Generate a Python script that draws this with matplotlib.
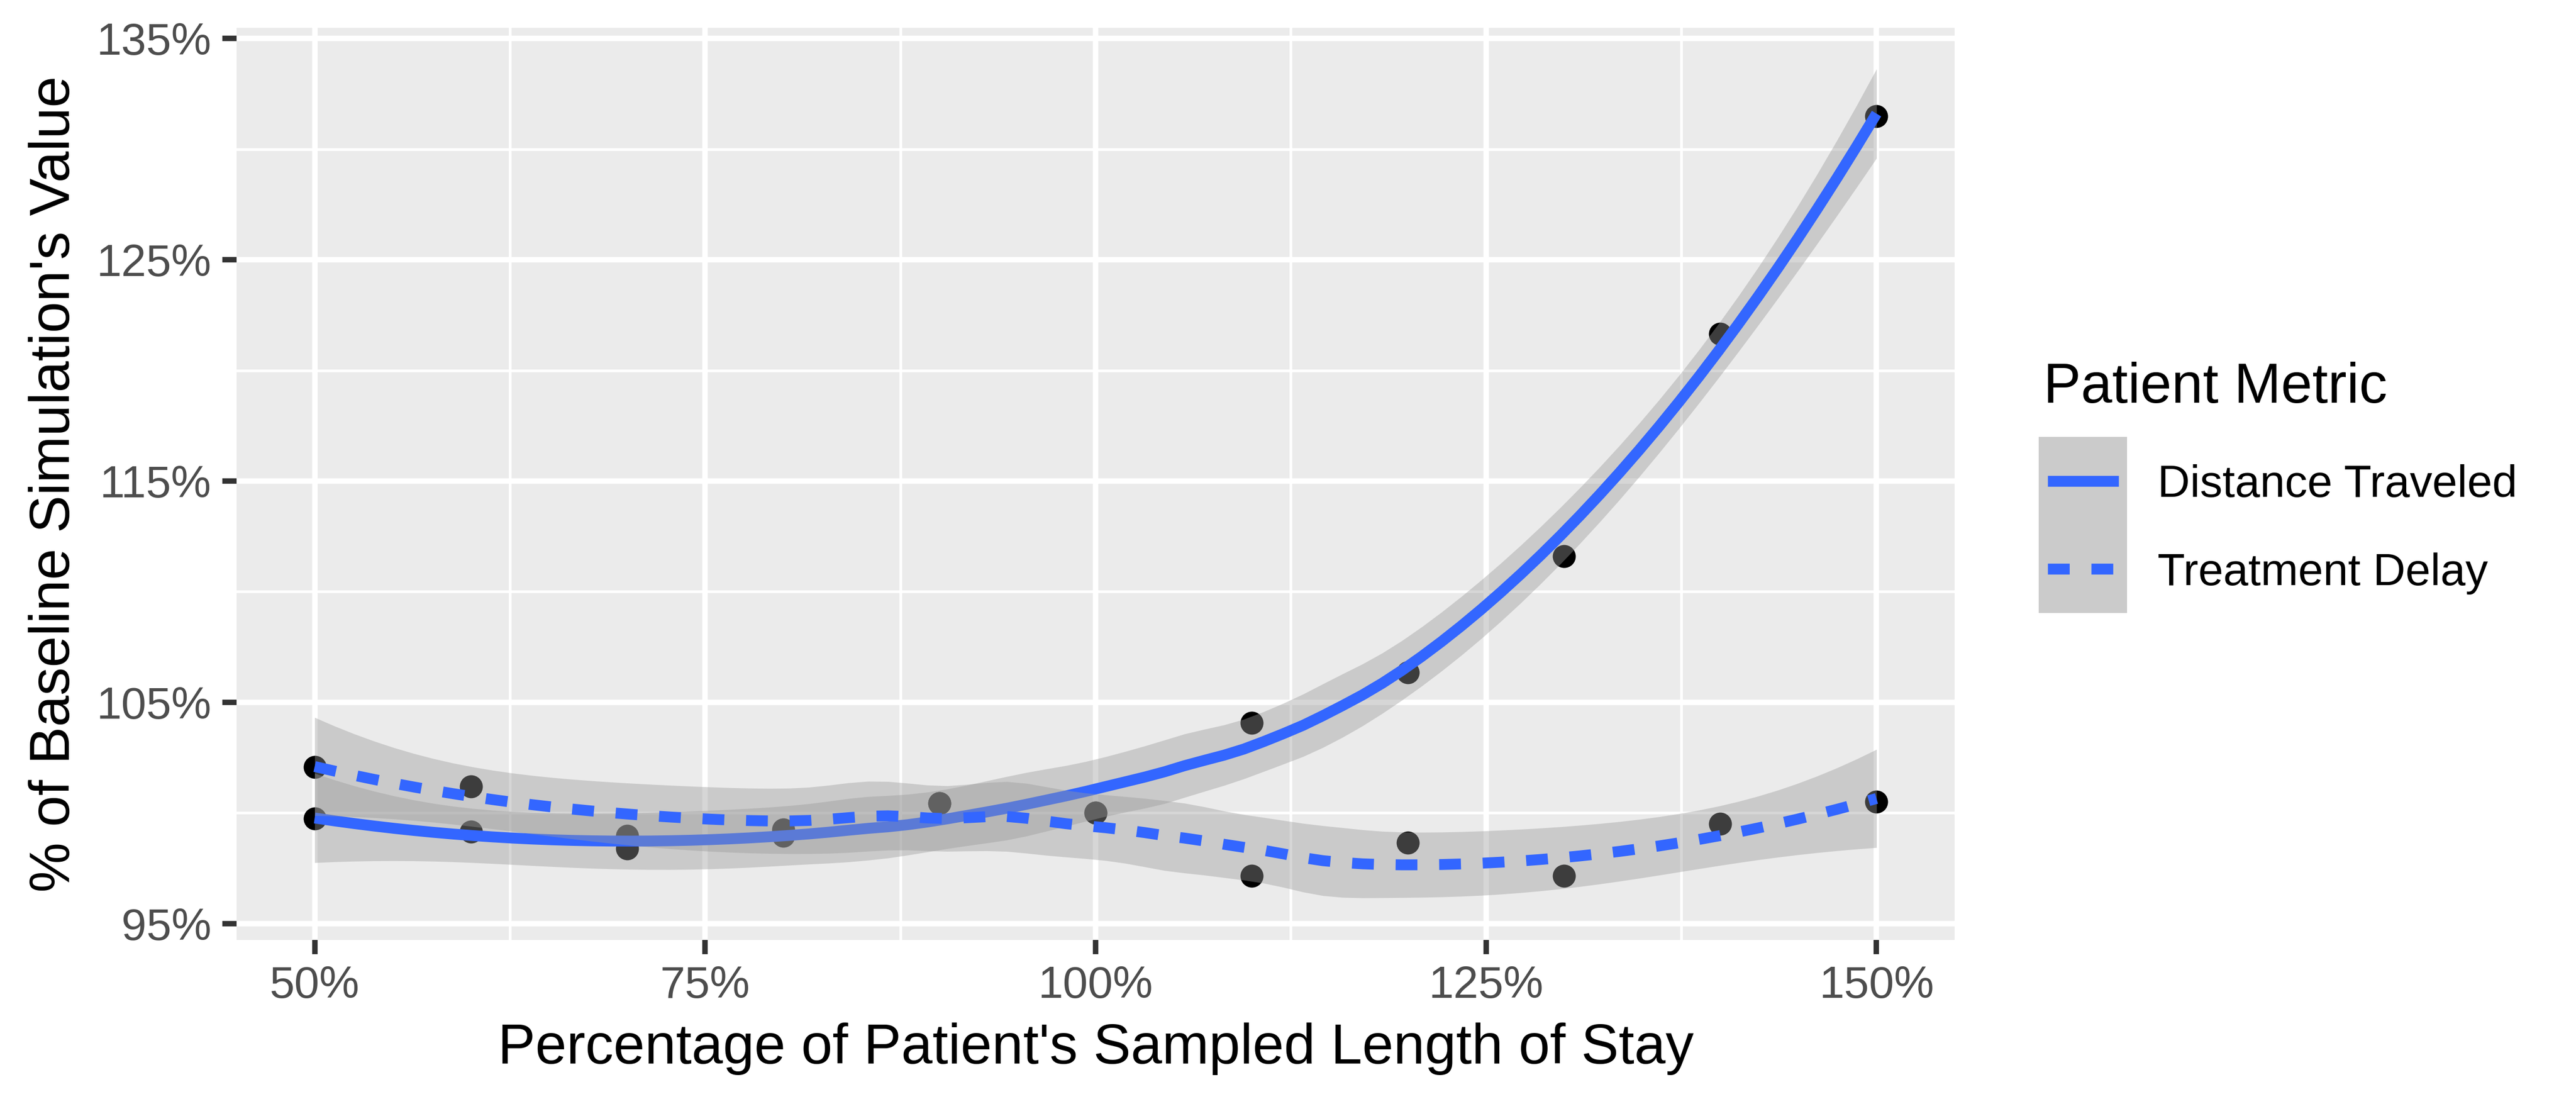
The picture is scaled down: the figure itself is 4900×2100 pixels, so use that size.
import numpy as np
import matplotlib
matplotlib.use("Agg")
import matplotlib.pyplot as plt
from matplotlib.lines import Line2D
from matplotlib.patches import Rectangle
from math import lgamma, exp, sqrt, pi

# data (percent of baseline)
los_pct = [50, 60, 70, 80, 90, 100, 110, 120, 130, 140, 150]
distance = [99.75, 99.16, 98.40, 98.97, 100.44, 100.0, 104.07, 106.36, 111.6, 121.65, 131.5]
delay = [102.08, 101.2, 98.97, 99.25, 100.44, 100.0, 97.15, 98.65, 97.17, 99.51, 100.5]
metrics = ["Distance Traveled", "Treatment Delay"]
x_ticks = [50, 75, 100, 125, 150]
y_ticks = [95, 105, 115, 125, 135]

plt.rcParams['font.family'] = ['Liberation Sans', 'DejaVu Sans']

LINE_COL = '#3366FF'


def loess_matrix(x, xnew, span=0.75):
    # local quadratic fit, tricube weights (like R's loess default)
    n = len(x)
    q = int(np.floor(n * span + 1e-5))
    L = np.zeros((len(xnew), n))
    for i, x0 in enumerate(xnew):
        d = np.abs(x - x0)
        h = np.sort(d)[q - 1]
        u = d / h
        w = np.where(u < 1, (1 - u ** 3) ** 3, 0.0)
        X = np.column_stack([np.ones(n), x - x0, (x - x0) ** 2])
        XtW = X.T * w
        L[i] = np.linalg.solve(XtW @ X, XtW)[0]
    return L


def t_quantile(p, df):
    xs = np.linspace(0, 60, 300001)
    c = exp(lgamma((df + 1) / 2) - lgamma(df / 2)) / sqrt(df * pi)
    pdf = c * (1 + xs ** 2 / df) ** (-(df + 1) / 2)
    dx = xs[1] - xs[0]
    cdf = 0.5 + np.concatenate([[0], np.cumsum((pdf[1:] + pdf[:-1]) / 2 * dx)])
    return np.interp(p, cdf, xs)


def smooth(x, y, npts=80):
    x = np.asarray(x, float)
    y = np.asarray(y, float)
    xg = np.linspace(x.min(), x.max(), npts)
    Lg = loess_matrix(x, xg)
    Ld = loess_matrix(x, x)
    R = np.eye(len(x)) - Ld
    RR = R.T @ R
    one_delta = np.trace(RR)
    two_delta = np.trace(RR @ RR)
    sigma = np.sqrt(np.sum((R @ y) ** 2) / one_delta)
    fit = Lg @ y
    se = sigma * np.sqrt(np.sum(Lg ** 2, axis=1))
    tq = t_quantile(0.975, one_delta ** 2 / two_delta)
    return xg, fit, fit - tq * se, fit + tq * se


fig = plt.figure(figsize=(7, 3), dpi=700)
ax = fig.add_axes([450 / 4900, 1 - 1788 / 2100, (3718 - 450) / 4900, (1788 - 53) / 2100])
ax.set_facecolor('#EBEBEB')
for s in ax.spines.values():
    s.set_visible(False)

# points first, smooths drawn over them
ax.plot(los_pct, distance, 'o', ms=4.5, color='black', mec='none', zorder=2)
ax.plot(los_pct, delay, 'o', ms=4.5, color='black', mec='none', zorder=2)

z = 3
for vals, ls in [(distance, '-'), (delay, '--')]:
    xg, fit, lo, hi = smooth(los_pct, vals)
    ax.fill_between(xg, lo, hi, color='#999999', alpha=0.4, lw=0, zorder=z)
    ln, = ax.plot(xg, fit, color=LINE_COL, lw=2.13, zorder=z + 1, solid_capstyle='butt')
    if ls == '--':
        ln.set_dashes((2, 2))
        ln.set_dash_capstyle('butt')
    z += 2

ax.set_xlim(45.0, 155.0)
ax.set_ylim(94.26, 135.48)
ax.set_xticks(x_ticks)
ax.set_xticklabels([f"{v}%" for v in x_ticks])
ax.set_yticks(y_ticks)
ax.set_yticklabels([f"{v}%" for v in y_ticks])
ax.set_xticks([62.5, 87.5, 112.5, 137.5], minor=True)
ax.set_yticks([100, 110, 120, 130], minor=True)
ax.grid(which='major', color='white', lw=1.07)
ax.grid(which='minor', color='white', lw=0.53)
ax.set_axisbelow(True)
ax.tick_params(which='major', length=2.75, width=1.07, color='#333333',
               labelsize=8.8, labelcolor='#4D4D4D', pad=2.2)
ax.tick_params(which='minor', length=0)

fig.text(2084 / 4900, 1 - 2023 / 2100, "Percentage of Patient's Sampled Length of Stay",
         fontsize=11, ha='center', va='baseline')
fig.text(132 / 4900, 1 - 920.5 / 2100, "% of Baseline Simulation's Value",
         fontsize=11, rotation=90, rotation_mode='anchor', ha='center', va='baseline')

# legend
W, H = 4900, 2100
fig.text(3887 / W, 1 - 766 / H, "Patient Metric", fontsize=11, ha='left', va='baseline')
key_top = 831
key_h = 167.5
for i, name in enumerate(metrics):
    y0 = key_top + i * key_h
    fig.patches.append(Rectangle((3878 / W, 1 - (y0 + key_h) / H), 168 / W, key_h / H,
                                 transform=fig.transFigure, facecolor='#CBCBCB',
                                 edgecolor='none', zorder=1))
    yc = y0 + key_h / 2
    ln = Line2D([3895 / W, 4030 / W], [1 - yc / H, 1 - yc / H], transform=fig.transFigure,
                color=LINE_COL, lw=2.13, solid_capstyle='butt', zorder=2)
    if i == 1:
        ln.set_dashes((2, 2))
        ln.set_dash_capstyle('butt')
    fig.lines.append(ln)
    fig.text(4104 / W, 1 - (yc + 30.6) / H, name, fontsize=8.8, ha='left', va='baseline')

fig.savefig('out.png', dpi=700, facecolor='white')
